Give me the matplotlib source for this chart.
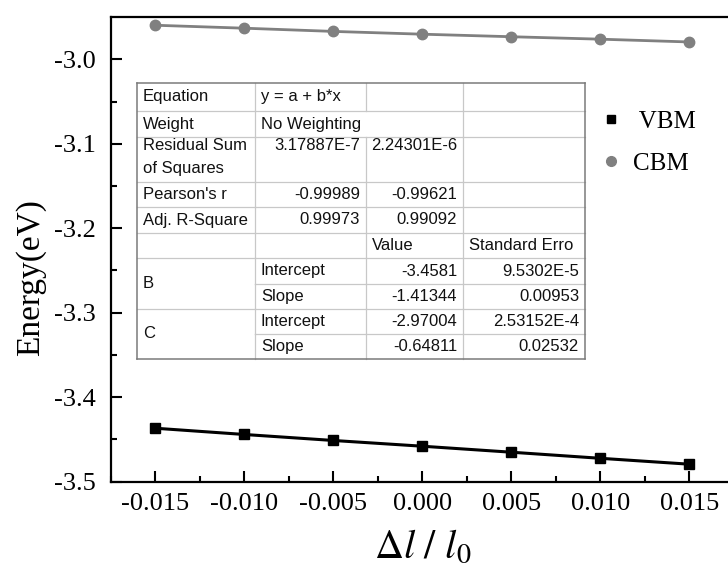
import matplotlib
matplotlib.use("Agg")
import matplotlib.pyplot as plt
from matplotlib.ticker import MultipleLocator, FormatStrFormatter
from matplotlib.lines import Line2D
from matplotlib.patches import Rectangle

# ---------------- data ----------------
strain = [-0.015, -0.010, -0.005, 0.000, 0.005, 0.010, 0.015]
vbm = [-3.4367, -3.4441, -3.4512, -3.4580, -3.4651, -3.4723, -3.4793]
cbm = [-2.9597, -2.9632, -2.9670, -2.9703, -2.9733, -2.9762, -2.9795]
series_labels = [" VBM", "CBM"]

table_rows = [
    ["Equation", "y = a + b*x", "", ""],
    ["Weight", "No Weighting", None, ""],
    ["Residual Sum\nof Squares", "3.17887E-7", "2.24301E-6", ""],
    ["Pearson's r", "-0.99989", "-0.99621", ""],
    ["Adj. R-Square", "0.99973", "0.99092", ""],
    ["", "", "Value", "Standard Erro"],
    ["B", "Intercept", "-3.4581", "9.5302E-5"],
    [None, "Slope", "-1.41344", "0.00953"],
    ["C", "Intercept", "-2.97004", "2.53152E-4"],
    [None, "Slope", "-0.64811", "0.02532"],
]

W, H = 728, 569
plt.rcParams['font.family'] = ['Liberation Serif', 'DejaVu Serif']
plt.rcParams['mathtext.fontset'] = 'stix'

fig = plt.figure(figsize=(W / 100, H / 100), dpi=100)

def px(x, y):
    return x / W, 1 - y / H

ax_l, ax_r, ax_t, ax_b = 110.7, 734.0, 17.3, 481.7
ax = fig.add_axes([ax_l / W, 1 - ax_b / H, (ax_r - ax_l) / W, (ax_b - ax_t) / H])

ax.plot(strain, vbm, color='black', lw=2.2, marker='s', ms=6.5, zorder=3)
ax.plot(strain, cbm, color='#808080', lw=2.0, marker='o', ms=7.5, zorder=3)

ax.set_xlim(-0.0175, 0.0175)
ax.set_ylim(-3.5, -2.9503)
ax.xaxis.set_major_locator(MultipleLocator(0.005))
ax.xaxis.set_minor_locator(MultipleLocator(0.0025))
ax.yaxis.set_major_locator(MultipleLocator(0.1))
ax.yaxis.set_minor_locator(MultipleLocator(0.05))
ax.xaxis.set_major_formatter(FormatStrFormatter('%.3f'))
ax.yaxis.set_major_formatter(FormatStrFormatter('%.1f'))
ax.tick_params(which='both', direction='in', width=1.5, labelsize=19, top=False, right=False)
ax.tick_params(which='major', length=8)
ax.tick_params(which='minor', length=4)
ax.tick_params(axis='x', pad=8)
ax.tick_params(axis='y', pad=11)
for s in ax.spines.values():
    s.set_linewidth(1.6)

ax.set_ylabel('Energy(eV)', fontsize=24)
ax.yaxis.set_label_coords((46 - ax_l) / (ax_r - ax_l), (ax_b - 278) / (ax_b - ax_t))
ax.set_xlabel(r'$\Delta l\ /\ l_0$', fontsize=29, labelpad=10)

# legend
handles = [Line2D([], [], ls='none', marker='s', color='black', ms=6),
           Line2D([], [], ls='none', marker='o', color='#808080', ms=7)]
fig.legend(handles, series_labels, loc='upper left', bbox_to_anchor=px(588, 100),
           frameon=False, fontsize=18, handlelength=1.0, handletextpad=0.4,
           labelspacing=0.8, borderaxespad=0)

# ---------------- table ----------------
cols = [137, 255, 366, 463, 585]
rows = [83, 111, 137, 182, 207, 233, 258, 284, 309, 334, 359]
grid_c = '#c8c8c8'
tf = fig.transFigure
sans = ['Liberation Sans', 'DejaVu Sans']
fs = 12

def hline(y, x0, x1, c=grid_c, lw=0.9):
    fig.add_artist(Line2D([x0 / W, x1 / W], [1 - y / H, 1 - y / H], color=c, lw=lw, transform=tf))

def vline(x, y0, y1, c=grid_c, lw=0.9):
    fig.add_artist(Line2D([x / W, x / W], [1 - y0 / H, 1 - y1 / H], color=c, lw=lw, transform=tf))

fig.add_artist(Rectangle(px(cols[0], rows[-1]), (cols[-1] - cols[0]) / W, (rows[-1] - rows[0]) / H,
                         transform=tf, facecolor='white', edgecolor='none', zorder=2))

for i in range(1, len(rows) - 1):
    x0 = cols[0]
    if table_rows[i][0] is None:
        x0 = cols[1]
    hline(rows[i], x0, cols[-1])
for j in range(1, len(cols) - 1):
    for i in range(len(rows) - 1):
        if j == 2 and table_rows[i][2] is None:
            continue
        vline(cols[j], rows[i], rows[i + 1])
dark = '#7a7a7a'
hline(rows[0], cols[0], cols[-1], c=dark, lw=1.1)
hline(rows[-1], cols[0], cols[-1], c=dark, lw=1.1)
vline(cols[0], rows[0], rows[-1], c=dark, lw=1.1)
vline(cols[-1], rows[0], rows[-1], c=dark, lw=1.1)

pad = 6
for i, r in enumerate(table_rows):
    y0, y1 = rows[i], rows[i + 1]
    for j, t in enumerate(r):
        if not t:
            continue
        yy0, yy1 = y0, y1
        if j == 0 and i + 1 < len(table_rows) and table_rows[i + 1][0] is None:
            yy1 = rows[i + 2]
        numeric = t[0] in '-0123456789'
        if numeric:
            x, ha = cols[j + 1] - pad, 'right'
        else:
            x, ha = cols[j] + pad, 'left'
        if '\n' in t:
            for k, ln in enumerate(t.split('\n')):
                fig.text(x / W, 1 - (y0 + 9 + 23 * k) / H, ln, ha='left', va='center',
                         fontsize=fs, family=sans, color='#111111')
        elif numeric and i == 2:
            fig.text(x / W, 1 - (y0 + 9) / H, t, ha=ha, va='center', fontsize=fs,
                     family=sans, color='#111111')
        else:
            fig.text(x / W, 1 - ((yy0 + yy1) / 2) / H, t, ha=ha, va='center', fontsize=fs,
                     family=sans, color='#111111')

fig.savefig('out.png', dpi=100)
